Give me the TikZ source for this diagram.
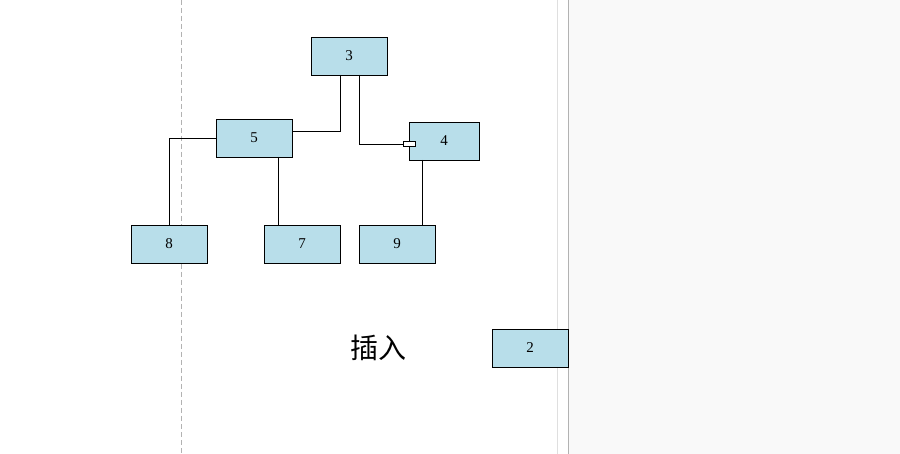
\documentclass[tikz,border=0pt]{standalone}
\usepackage{fontspec}
\newfontfamily\cjk{Noto Sans CJK SC}
\setmainfont{Liberation Serif}
\definecolor{boxblue}{RGB}{184,222,234}
\definecolor{panel}{RGB}{249,249,249}
\begin{document}
\begin{tikzpicture}[x=1pt,y=-1pt,
  box/.style={draw=black,fill=boxblue,minimum width=76pt,minimum height=38pt,inner sep=0pt,font=\fontsize{15}{15}\selectfont,line width=0.6pt},
  con/.style={draw=black,line width=0.7pt}]
\useasboundingbox (0,0) rectangle (900,454);
\fill[white] (0,0) rectangle (568,454);
\fill[panel] (568,0) rectangle (900,454);
\draw[gray!25,line width=0.8pt] (557,0) -- (557,454);
\draw[gray!60,line width=1.5pt] (568.5,0) -- (568.5,454);
\draw[gray!60,dash pattern=on 5pt off 3pt,line width=0.6pt] (181,0) -- (181,454);
\node[box] (n3) at (349,56) {3};
\node[box] (n5) at (254,138) {5};
\node[box,minimum width=70pt] (n4) at (444,141) {4};
\node[box] (n8) at (169,244) {8};
\node[box] (n7) at (302,244) {7};
\node[box] (n9) at (397,244) {9};
\node[box] (n2) at (530,348) {2};
\node[font=\cjk\fontsize{28}{28}\selectfont] (t) at (378,348) {插入};
\coordinate (a1) at (340,75); \coordinate (a2) at (292,131);
\draw[con] (a1) |- (a2);
\coordinate (b1) at (359,75); \coordinate (b2) at (409,144);
\draw[con] (b1) |- (b2);
\draw[fill=white,line width=0.6pt] (403,141.5) rectangle (415,146);
\coordinate (c1) at (216,138);
\draw[con] (c1) -| (n8.north);
\coordinate (d1) at (278,157); \coordinate (d2) at (278,225);
\draw[con] (d1) -- (d2);
\coordinate (e1) at (422,160); \coordinate (e2) at (422,225);
\draw[con] (e1) -- (e2);
\end{tikzpicture}
\end{document}
